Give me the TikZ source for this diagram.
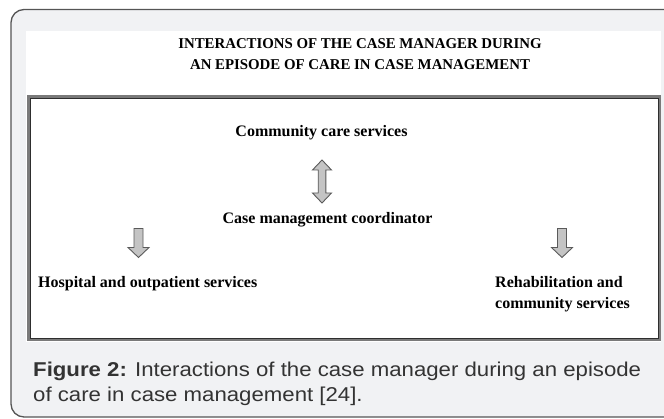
\documentclass[tikz,border=0pt]{standalone}
\usepackage{fontspec}
\setmainfont{Liberation Serif}
\newfontfamily\diagfont{Liberation Serif}
\newfontfamily\titlefont[FakeStretch=0.99]{Liberation Serif}
\newfontfamily\capfont[FakeStretch=1.11]{Liberation Sans}
\definecolor{panelgray}{HTML}{F1F2F4}
\definecolor{framegray}{HTML}{555555}
\definecolor{boxband}{HTML}{7A7A7A}
\definecolor{boxline}{HTML}{2E2E2E}
\definecolor{arrowfill}{HTML}{C4C4C4}
\definecolor{arrowline}{HTML}{5A5A5A}
\definecolor{captext}{HTML}{333333}
\begin{document}
\begin{tikzpicture}[x=1pt,y=-1pt,
  label/.style={inner sep=0pt,font=\diagfont\bfseries\fontsize{16}{21}\selectfont},
  titletext/.style={inner sep=0pt,align=center,font=\titlefont\bfseries\fontsize{15}{21}\selectfont},
  captiontext/.style={inner sep=0pt,align=left,text=captext,font=\capfont\fontsize{20}{25}\selectfont},
  blockarrow/.style={fill=arrowfill,draw=arrowline,line width=0.9pt,line join=miter},
  downarrow/.pic={\path[blockarrow] (-4.5,0) -- (4.5,0) -- (4.5,19) -- (10.5,19) -- (0,29) -- (-10.5,19) -- (-4.5,19) -- cycle;},
  updownarrow/.pic={\path[blockarrow] (0,0) -- (9.5,10) -- (3.8,10) -- (3.8,33) -- (9.5,33) -- (0,43) -- (-9.5,33) -- (-3.8,33) -- (-3.8,10) -- (-9.5,10) -- cycle;}
]
\useasboundingbox (0,0) rectangle (664,419);

% outer panel with rounded corners, running past the right edge
\path[fill=panelgray,draw=framegray,line width=1.3pt,rounded corners=13pt]
  (690,9.5) -- (11,9.5) -- (11,417) -- (690,417);

% white sheet holding the figure
\fill[white] (26,31) rectangle (661,342);

% framed diagram area: grey band with a dark inner line
\draw[boxband,line width=3pt] (28.5,96.5) rectangle (659.5,340);
\draw[boxline,line width=1pt] (30.5,98.5) rectangle (658,339);

% heading (base anchor sits on the last line)
\node[titletext,anchor=base] (title) at (360,69.5)
  {INTERACTIONS OF THE CASE MANAGER DURING\\ AN EPISODE OF CARE IN CASE MANAGEMENT};

% service nodes
\node[label,anchor=base] (ccs) at (321.5,137) {Community care services};
\node[label,anchor=base] (cmc) at (327.5,224) {Case management coordinator};
\node[label,anchor=base west] (hos) at (38,287.5) {Hospital and outpatient services};
\node[label,anchor=base west,align=left] (reh) at (495,309) {Rehabilitation and\\ community services};

% block arrows between the nodes
\coordinate (dbl) at (322,160);
\coordinate (lft) at (138.5,228.5);
\coordinate (rgt) at (562,228.5);
\pic at (dbl) {updownarrow};
\pic at (lft) {downarrow};
\pic at (rgt) {downarrow};

% caption
\node[captiontext,anchor=base west] (cap) at (33,402)
  {\textbf{Figure 2:} Interactions of the case manager during an episode\\ of care in case management [24].};
\end{tikzpicture}
\end{document}
